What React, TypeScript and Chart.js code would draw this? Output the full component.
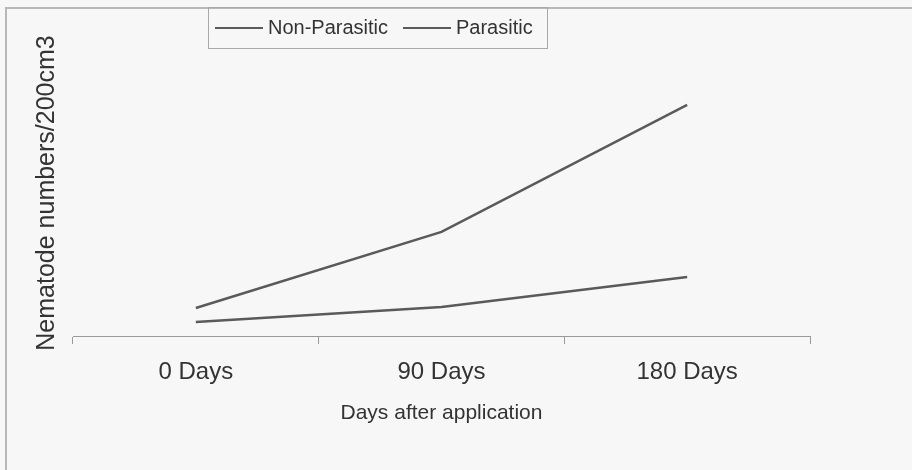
import React, { useEffect, useRef } from "react";
import { Chart, registerables } from "chart.js";

Chart.register(...registerables);

const categories = ["0 Days", "90 Days", "180 Days"];
const nonParasitic = [9.8, 36.4, 80.8];
const parasitic = [4.9, 10.1, 20.6];
const seriesLabels = ["Non-Parasitic", "Parasitic"];
const yTitle = "Nematode numbers/200cm3";
const xTitle = "Days after application";

const FONT = "'Liberation Sans', Arial, sans-serif";
const TEXT = "#333333";
const LINE = "#5a5a5a";
const AXIS = "#9a9a9a";

const legendBox = {
  id: "legendBox",
  afterDraw(chart: any) {
    const ctx = chart.ctx;
    ctx.save();
    ctx.strokeStyle = "#a8a8a8";
    ctx.lineWidth = 1;
    ctx.strokeRect(208.5, 7.5, 339, 41);
    const starts = [215, 403];
    ctx.font = `20px ${FONT}`;
    ctx.textBaseline = "middle";
    ctx.textAlign = "left";
    chart.data.datasets.forEach((ds: any, i: number) => {
      const x = starts[i];
      ctx.strokeStyle = ds.borderColor;
      ctx.lineWidth = 2;
      ctx.beginPath();
      ctx.moveTo(x, 28);
      ctx.lineTo(x + 48, 28);
      ctx.stroke();
      ctx.fillStyle = TEXT;
      ctx.fillText(ds.label, x + 53, 28);
    });
    ctx.restore();
  },
};

export default function App() {
  const ref = useRef<HTMLCanvasElement | null>(null);

  useEffect(() => {
    if (!ref.current) return;
    const chart = new Chart(ref.current, {
      type: "line",
      data: {
        labels: categories,
        datasets: [
          {
            label: seriesLabels[0],
            data: nonParasitic,
            borderColor: LINE,
            backgroundColor: LINE,
            borderWidth: 2.5,
            pointRadius: 0,
            tension: 0,
          },
          {
            label: seriesLabels[1],
            data: parasitic,
            borderColor: LINE,
            backgroundColor: LINE,
            borderWidth: 2.5,
            pointRadius: 0,
            tension: 0,
          },
        ],
      },
      options: {
        animation: false,
        responsive: true,
        maintainAspectRatio: false,
        layout: { padding: { top: 50, left: 28, right: 102, bottom: 40 } },
        plugins: {
          legend: { display: false },
          tooltip: { enabled: false },
        },
        scales: {
          x: {
            offset: true,
            grid: {
              offset: true,
              drawOnChartArea: false,
              drawTicks: true,
              tickLength: 8,
              color: AXIS,
              lineWidth: 1,
            },
            border: { display: true, color: AXIS, width: 1 },
            ticks: {
              color: TEXT,
              font: { family: FONT, size: 24 },
              padding: 14,
              maxRotation: 0,
            },
            title: {
              display: true,
              text: xTitle,
              color: TEXT,
              font: { family: FONT, size: 21 },
              padding: { top: 0, bottom: 4 },
            },
          },
          y: {
            min: 0,
            max: 100,
            grid: { display: false },
            border: { display: false },
            ticks: { display: false },
            title: {
              display: true,
              text: yTitle,
              color: TEXT,
              font: { family: FONT, size: 25 },
              padding: { top: 4, bottom: 3 },
            },
          },
        },
      },
      plugins: [legendBox],
    });
    return () => chart.destroy();
  }, []);

  return (
    <div
      style={{
        position: "fixed",
        left: 0,
        top: 0,
        width: 912,
        height: 470,
        background: "#f7f7f7",
        overflow: "hidden",
      }}
    >
      <div
        style={{
          position: "absolute",
          left: 5,
          top: 7,
          width: 950,
          height: 500,
          borderLeft: "2px solid #b8b8b8",
          borderTop: "2px solid #b8b8b8",
        }}
      />
      <canvas ref={ref} style={{ position: "absolute", left: 0, top: 0, width: 912, height: 470 }} />
    </div>
  );
}
